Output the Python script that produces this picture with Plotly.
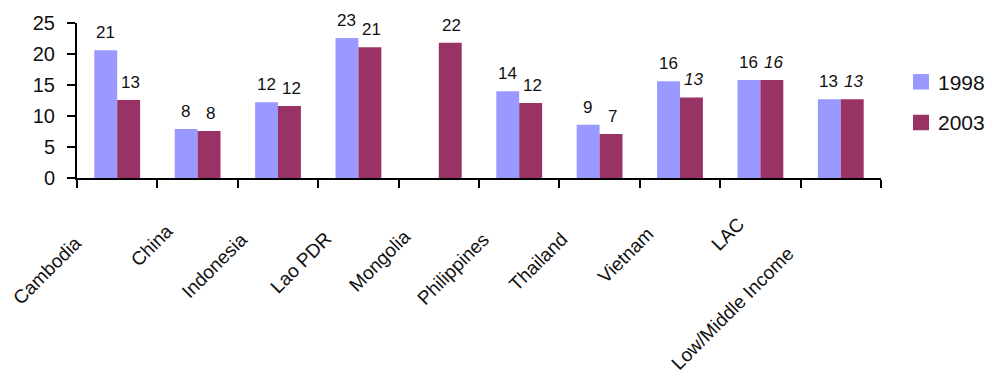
import plotly.graph_objects as go

# Categories and the two survey years
categories = ["Cambodia", "China", "Indonesia", "Lao PDR", "Mongolia",
              "Philippines", "Thailand", "Vietnam", "LAC", "Low/Middle Income"]
values_1998 = [20.6, 7.9, 12.2, 22.6, None, 14.0, 8.6, 15.6, 15.8, 12.7]
values_2003 = [12.6, 7.6, 11.6, 21.1, 21.8, 12.1, 7.1, 13.0, 15.8, 12.7]
y_ticks = [0, 5, 10, 15, 20, 25]

COLOR_1998 = "#9999FF"
COLOR_2003 = "#993366"
FONT = "Liberation Sans"

style_2003 = ["normal"] * 7 + ["italic"] * 3

fig = go.Figure()
fig.add_trace(go.Bar(
    x=categories, y=values_1998, name="1998",
    marker=dict(color=COLOR_1998, line=dict(width=0)),
))
fig.add_trace(go.Bar(
    x=categories, y=values_2003, name="2003",
    marker=dict(color=COLOR_2003, line=dict(width=0)),
))

annotations = []
# Value labels above each bar, shifted onto their bar within the group
for vals, dx, styles in [(values_1998, -12, ["normal"] * len(categories)),
                         (values_2003, 13, style_2003)]:
    for cat, v, st in zip(categories, vals, styles):
        if v is None:
            continue
        annotations.append(dict(
            x=cat, y=v, xref="x", yref="y", xshift=dx, yshift=6,
            text=f"{v:.0f}", showarrow=False, xanchor="center", yanchor="bottom",
            font=dict(family=FONT, size=17, color="#111111", style=st),
        ))

# Rotated category labels, each anchored at its upper-right end
label_offsets = [(-29, 230), (-18, 218), (-24, 226), (-20, 225), (-21, 223),
                 (-23, 226), (-25, 226), (-20, 221), (-10, 211), (-40, 241)]
PLOT_TOP, PLOT_H = 18.3, 160.0
for cat, (dx, py) in zip(categories, label_offsets):
    annotations.append(dict(
        x=cat, xref="x", xshift=dx,
        y=0, yref="paper", yshift=-(py - (PLOT_TOP + PLOT_H)),
        text=cat, showarrow=False, textangle=-45,
        xanchor="right", yanchor="top",
        font=dict(family=FONT, size=19, color="#111111"),
    ))

# Legend drawn as swatches plus text to the right of the plot
PLOT_L, PLOT_W = 77.0, 804.0
def px_x(px):
    return (px - PLOT_L) / PLOT_W
def px_y(py):
    return (PLOT_TOP + PLOT_H - py) / PLOT_H

shapes = []
for name, color, top in [("1998", COLOR_1998, 71), ("2003", COLOR_2003, 113)]:
    shapes.append(dict(type="rect", xref="paper", yref="paper",
                       x0=px_x(913), x1=px_x(929), y0=px_y(top + 16), y1=px_y(top),
                       fillcolor=color, line=dict(width=0)))
    annotations.append(dict(x=px_x(936), y=px_y(top + 8.5), xref="paper", yref="paper",
                            text=name, showarrow=False, xanchor="left", yanchor="middle",
                            font=dict(family=FONT, size=21, color="#111111")))

fig.update_layout(
    width=986, height=379,
    margin=dict(l=77, r=105, t=18.3, b=200.7),
    paper_bgcolor="white", plot_bgcolor="white",
    barmode="group", bargap=0.43, bargroupgap=0,
    showlegend=False,
    annotations=annotations, shapes=shapes,
    font=dict(family=FONT, color="#111111"),
)
fig.update_xaxes(
    range=[-0.5, 9.5], showticklabels=False,
    ticks="outside", tickson="boundaries", ticklen=8, tickwidth=2, tickcolor="black",
    showline=True, linecolor="black", linewidth=2, showgrid=False, zeroline=False,
)
fig.update_yaxes(
    range=[0, 25], tickvals=y_ticks, ticks="outside", ticklen=8, tickwidth=2,
    tickcolor="black", showline=True, linecolor="black", linewidth=2,
    showgrid=False, zeroline=False, ticklabelstandoff=8,
    tickfont=dict(family=FONT, size=20, color="#111111"),
)

fig.write_html("out.html")
